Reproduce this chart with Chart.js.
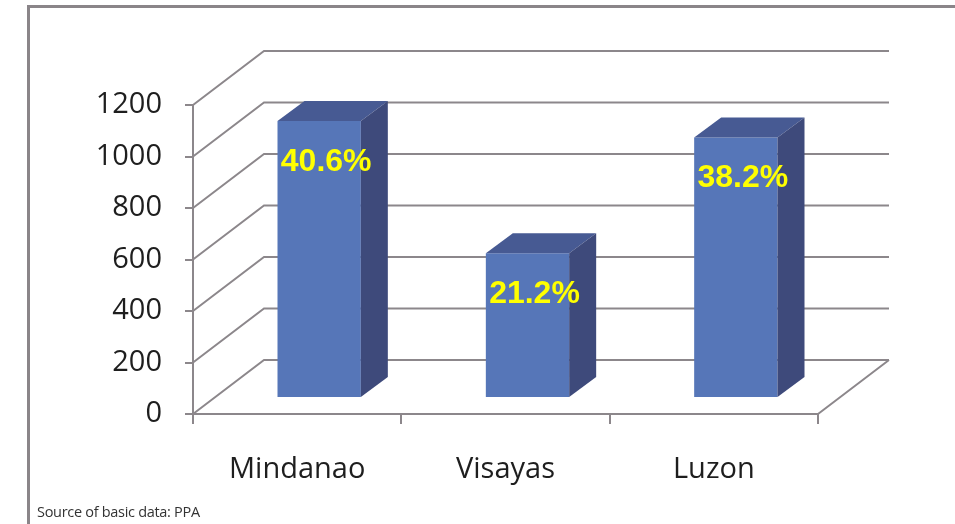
<!DOCTYPE html>
<html>
<head>
<meta charset="utf-8">
<script src="https://cdn.jsdelivr.net/npm/chart.js@4.4.1/dist/chart.umd.min.js"></script>
<style>
    html, body { margin: 0; padding: 0; background: #fff; }
    #wrap { position: relative; width: 955px; height: 524px; overflow: hidden; }
    #frame {
        position: absolute; left: 27px; top: 5px; right: -10px; bottom: -10px;
        border-left: 3px solid #8a8589; border-top: 3px solid #8a8589;
    }
    #source {
        position: absolute; left: 37px; top: 502px;
        font: 14.5px "Open Sans", sans-serif; color: #333; letter-spacing: -0.3px;
    }
    canvas { position: absolute; left: 0; top: 0; }
</style>
</head>
<body>
<div id="wrap">
    <div id="frame"></div>
    <canvas id="portChart" width="955" height="524"></canvas>
    <div id="source">Source of basic data: PPA</div>
</div>
<script>
const regions = ['Mindanao', 'Visayas', 'Luzon'];
const volumes = [1076, 562, 1012];
const yTicks = [0, 200, 400, 600, 800, 1000, 1200];

const total = volumes.reduce((a, b) => a + b, 0);
const shares = volumes.map(v => (v / total * 100).toFixed(1) + '%');

const gridColor = '#8c878b';
const wallDepth = { dx: 71, dy: -54 };   // back wall offset from the front plane
const barShift = { dx: 22, dy: -16 };    // bars sit a little way into the floor
const barDepth = { dx: 27, dy: -20 };    // thickness of each bar

const box3d = {
    id: 'box3d',
    beforeDatasetsDraw(chart) {
        const { ctx, chartArea, scales: { y } } = chart;
        ctx.save();
        ctx.strokeStyle = gridColor;
        ctx.lineWidth = 2;
        ctx.beginPath();
        yTicks.forEach(v => {
            const py = y.getPixelForValue(v);
            // side wall diagonal + back wall line
            ctx.moveTo(chartArea.left, py);
            ctx.lineTo(chartArea.left + wallDepth.dx, py + wallDepth.dy);
            ctx.lineTo(chartArea.right + wallDepth.dx, py + wallDepth.dy);
        });
        // right edge of the floor
        const base = y.getPixelForValue(0);
        ctx.moveTo(chartArea.right, base);
        ctx.lineTo(chartArea.right + wallDepth.dx, base + wallDepth.dy);
        ctx.stroke();
        ctx.restore();

        ctx.save();
        ctx.translate(barShift.dx, barShift.dy);
    },
    afterDatasetsDraw(chart) {
        const { ctx } = chart;
        const bars = chart.getDatasetMeta(0).data;
        bars.forEach(bar => {
            const l = bar.x - bar.width / 2, r = bar.x + bar.width / 2;
            const t = bar.y, b = bar.base;
            // top face
            ctx.fillStyle = '#475a93';
            ctx.beginPath();
            ctx.moveTo(l, t);
            ctx.lineTo(l + barDepth.dx, t + barDepth.dy);
            ctx.lineTo(r + barDepth.dx, t + barDepth.dy);
            ctx.lineTo(r, t);
            ctx.closePath();
            ctx.fill();
            // side face
            ctx.fillStyle = '#3e4a7b';
            ctx.beginPath();
            ctx.moveTo(r, t);
            ctx.lineTo(r + barDepth.dx, t + barDepth.dy);
            ctx.lineTo(r + barDepth.dx, b + barDepth.dy);
            ctx.lineTo(r, b);
            ctx.closePath();
            ctx.fill();
        });
        ctx.restore();

        // percentage labels
        ctx.save();
        ctx.fillStyle = '#ffff00';
        ctx.font = 'bold 32px "Liberation Sans", Arial, sans-serif';
        ctx.textAlign = 'center';
        ctx.textBaseline = 'middle';
        bars.forEach((bar, i) => {
            ctx.fillText(shares[i], bar.x + barShift.dx + 7, bar.y + barShift.dy + 41);
        });
        ctx.restore();
    }
};

const ctx = document.getElementById('portChart').getContext('2d');
new Chart(ctx, {
    type: 'bar',
    data: {
        labels: regions,
        datasets: [{
            data: volumes,
            backgroundColor: '#5676b8',
            borderWidth: 0,
            barPercentage: 0.4,
            categoryPercentage: 1,
            clip: false
        }]
    },
    options: {
        responsive: false,
        animation: false,
        events: [],
        layout: { padding: { left: 0, top: 105, right: 137, bottom: 0 } },
        plugins: { legend: { display: false }, tooltip: { enabled: false } },
        scales: {
            x: {
                afterFit(scale) { scale.height = 110; },
                border: { display: true, color: gridColor, width: 2 },
                grid: { display: true, drawOnChartArea: false, offset: true, tickLength: 10, color: gridColor, lineWidth: 2 },
                ticks: { color: '#1e1e1e', padding: 28, font: { family: '"Open Sans"', size: 29 } }
            },
            y: {
                min: 0,
                max: 1200,
                afterFit(scale) { scale.width = 193; },
                afterBuildTicks(scale) { scale.ticks = yTicks.map(v => ({ value: v })); },
                border: { display: true, color: gridColor, width: 2 },
                grid: { display: true, drawOnChartArea: false, tickLength: 8, color: gridColor, lineWidth: 2 },
                ticks: {
                    color: '#1e1e1e',
                    padding: 23,
                    font: { family: '"Open Sans"', size: 29 },
                    callback: v => String(v)
                }
            }
        }
    },
    plugins: [box3d]
});
</script>
</body>
</html>
